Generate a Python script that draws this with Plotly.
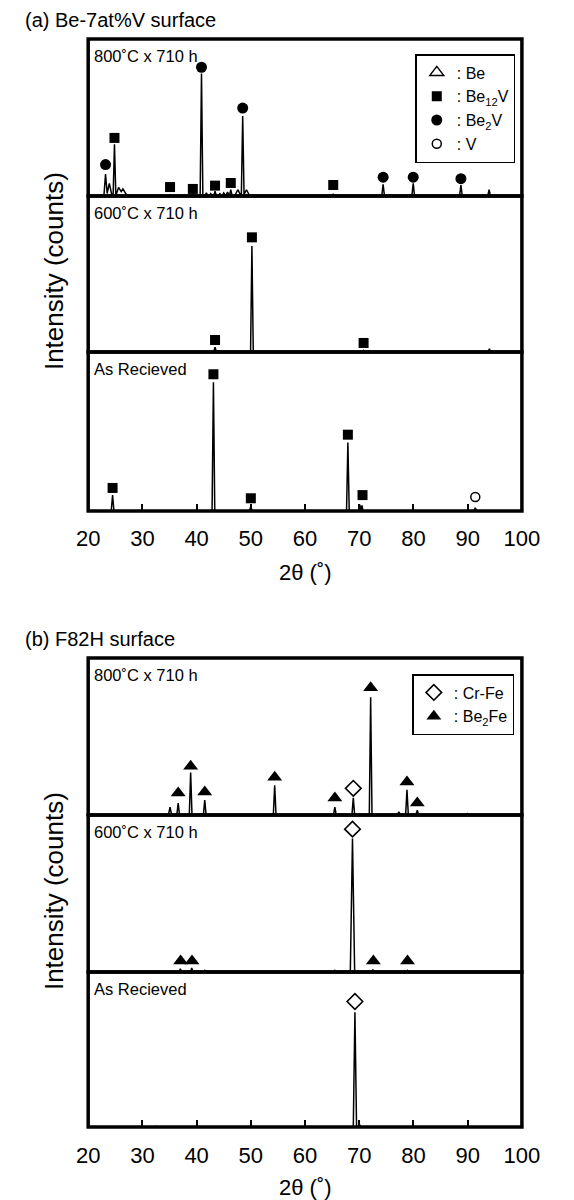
import plotly.graph_objects as go

FONT = "Liberation Sans, Arial, Helvetica, sans-serif"

# ---------------- data ----------------
tick_vals = [20, 30, 40, 50, 60, 70, 80, 90, 100]
tick_text = ["20", "30", "40", "50", "60", "70", "80", "90", "100"]

# (a) Be-7at%V surface : peak positions (2theta), relative heights, half widths
a800_pos = [23.2, 23.9, 24.85, 25.6, 26.4, 35.1, 39.3, 40.9, 41.8, 42.6, 43.4, 44.3, 45.0, 45.7, 46.3, 47.6, 48.5, 49.2, 65.2, 74.4, 79.95, 88.75, 93.95]
a800_hgt = [0.14, 0.08, 0.33, 0.055, 0.045, 0.008, 0.01, 0.78, 0.02, 0.015, 0.03, 0.015, 0.02, 0.025, 0.04, 0.04, 0.51, 0.04, 0.012, 0.075, 0.08, 0.07, 0.04]
a800_wid = [0.3, 0.5, 0.25, 0.5, 0.8, 0.3, 0.3, 0.25, 0.3, 0.3, 0.25, 0.3, 0.3, 0.3, 0.25, 0.6, 0.25, 0.6, 0.4, 0.25, 0.25, 0.25, 0.25]
a800_be12v_x = [24.85, 35.1, 39.3, 43.4, 46.3, 65.2]
a800_be12v_y = [0.37, 0.057, 0.045, 0.066, 0.083, 0.07]
a800_be2v_x = [23.2, 40.9, 48.5, 74.4, 79.95, 88.75]
a800_be2v_y = [0.20, 0.82, 0.56, 0.12, 0.12, 0.11]

a600_pos = [43.4, 50.2, 70.8, 94.0]
a600_hgt = [0.03, 0.68, 0.01, 0.02]
a600_wid = [0.25, 0.25, 0.25, 0.25]
a600_be12v_x = [43.4, 50.2, 70.8]
a600_be12v_y = [0.077, 0.735, 0.058]

aAR_pos = [24.5, 43.1, 50.0, 67.9, 70.1, 70.5, 91.4]
aAR_hgt = [0.10, 0.81, 0.03, 0.43, 0.04, 0.035, 0.02]
aAR_wid = [0.25, 0.25, 0.25, 0.25, 0.2, 0.2, 0.25]
aAR_be12v_x = [24.5, 43.1, 50.0, 67.9, 70.6]
aAR_be12v_y = [0.145, 0.86, 0.08, 0.48, 0.10]
aAR_v_x = [91.4]
aAR_v_y = [0.088]

# (b) F82H surface
b800_pos = [35.1, 36.6, 38.9, 41.5, 54.4, 65.5, 68.9, 72.1, 77.3, 78.8, 80.7, 90.0]
b800_hgt = [0.05, 0.076, 0.27, 0.095, 0.19, 0.05, 0.11, 0.75, 0.02, 0.16, 0.03, 0.01]
b800_wid = [0.3, 0.25, 0.25, 0.25, 0.25, 0.25, 0.25, 0.25, 0.3, 0.25, 0.25, 0.3]
b800_be2fe_x = [36.6, 38.9, 41.5, 54.4, 65.5, 72.1, 78.8, 80.7]
b800_be2fe_y = [0.14, 0.31, 0.146, 0.24, 0.108, 0.81, 0.21, 0.076]
b800_crfe_x = [68.9]
b800_crfe_y = [0.17]

b600_pos = [37.0, 39.1, 41.5, 65.5, 68.75, 72.5, 78.9]
b600_hgt = [0.02, 0.025, 0.01, 0.01, 0.85, 0.015, 0.01]
b600_wid = [0.25, 0.25, 0.25, 0.25, 0.4, 0.25, 0.25]
b600_be2fe_x = [37.05, 39.15, 72.6, 78.9]
b600_be2fe_y = [0.07, 0.07, 0.07, 0.07]
b600_crfe_x = [68.75]
b600_crfe_y = [0.91]

bAR_pos = [32.5, 69.2, 70.0]
bAR_hgt = [0.005, 0.74, 0.02]
bAR_wid = [0.3, 0.3, 0.25]
bAR_crfe_x = [69.2]
bAR_crfe_y = [0.81]


def profile(pos, hgt, wid):
    xs = {20.0, 100.0}
    for p, w in zip(pos, wid):
        xs.update([p - w, p, p + w])
    xs = sorted(xs)
    ys = []
    for x in xs:
        v = 0.0
        for p, h, w in zip(pos, hgt, wid):
            if abs(x - p) < w:
                v = max(v, h * (1 - abs(x - p) / w))
        ys.append(v)
    return xs, ys


fig = go.Figure()

# page body has an 8px margin: lay out in window pixels and convert
OFF = 8
W, H = 574 - OFF, 1200 - OFF


def xp(px):
    return (px - OFF) / W


def yp(py):
    return 1 - (py - OFF) / H


X0, X1 = 80, 538
panels = {
    "y": (39, 196), "y2": (196, 352), "y3": (352, 511),
    "y4": (658, 815), "y5": (815, 972), "y6": (972, 1127),
}

spectra = [
    ("x", "y", a800_pos, a800_hgt, a800_wid),
    ("x", "y2", a600_pos, a600_hgt, a600_wid),
    ("x", "y3", aAR_pos, aAR_hgt, aAR_wid),
    ("x2", "y4", b800_pos, b800_hgt, b800_wid),
    ("x2", "y5", b600_pos, b600_hgt, b600_wid),
    ("x2", "y6", bAR_pos, bAR_hgt, bAR_wid),
]
for xa, ya, p, h, w in spectra:
    xs, ys = profile(p, h, w)
    fig.add_trace(go.Scatter(x=xs, y=ys, xaxis=xa, yaxis=ya, mode="lines",
                             line=dict(color="black", width=1.5), showlegend=False,
                             hoverinfo="skip"))

sym_be = dict(symbol="triangle-up-open", size=12, color="black", line=dict(width=1.5, color="black"))
sym_be12v = dict(symbol="square", size=10, color="black")
sym_be2v = dict(symbol="circle", size=11, color="black")
sym_v = dict(symbol="circle-open", size=9, color="black", line=dict(width=1.5, color="black"))
sym_crfe = dict(symbol="diamond-open", size=12, color="black", line=dict(width=1.6, color="black"))
sym_be2fe = dict(symbol="triangle-up", size=13, color="black")


def mk(x, y, xa, ya, marker, name=None, legend="legend", show=False):
    fig.add_trace(go.Scatter(x=x, y=y, xaxis=xa, yaxis=ya, mode="markers",
                             marker=marker, name=name, showlegend=show,
                             legend=legend, cliponaxis=False))

# panel (a) markers (legend entries first)
mk([None], [None], "x", "y", sym_be, ": Be", "legend", True)
mk(a800_be12v_x, a800_be12v_y, "x", "y", sym_be12v, ": Be<sub>12</sub>V", "legend", True)
mk(a800_be2v_x, a800_be2v_y, "x", "y", sym_be2v, ": Be<sub>2</sub>V", "legend", True)
mk(aAR_v_x, aAR_v_y, "x", "y3", sym_v, ": V", "legend", True)
mk(a600_be12v_x, a600_be12v_y, "x", "y2", sym_be12v)
mk(aAR_be12v_x, aAR_be12v_y, "x", "y3", sym_be12v)

# panel (b) markers
mk(b800_crfe_x, b800_crfe_y, "x2", "y4", sym_crfe, ": Cr-Fe", "legend2", True)
mk(b800_be2fe_x, b800_be2fe_y, "x2", "y4", sym_be2fe, ": Be<sub>2</sub>Fe", "legend2", True)
mk(b600_crfe_x, b600_crfe_y, "x2", "y5", sym_crfe)
mk(b600_be2fe_x, b600_be2fe_y, "x2", "y5", sym_be2fe)
mk(bAR_crfe_x, bAR_crfe_y, "x2", "y6", sym_crfe)

xdom = [xp(X0), xp(X1)]
tickfont = dict(family=FONT, size=22, color="black")
common_x = dict(domain=xdom, range=[20, 100], showgrid=False, zeroline=False, showline=False,
                ticks="inside", ticklen=7, tickwidth=1.5, tickcolor="black")

layout = dict(
    width=W, height=H, margin=dict(l=0, r=0, t=0, b=0),
    paper_bgcolor="white", plot_bgcolor="white",
    font=dict(family=FONT, color="black"),
    xaxis=dict(**common_x, anchor="y3", tickvals=tick_vals, ticktext=tick_text, tickfont=tickfont,
               ticklabelstandoff=12),
    xaxis2=dict(**common_x, anchor="y6", tickvals=tick_vals, ticktext=tick_text, tickfont=tickfont,
                ticklabelstandoff=13),
    xaxis3=dict(**common_x, anchor="y", overlaying="x", side="top", tickvals=tick_vals, showticklabels=False),
    xaxis4=dict(**common_x, anchor="y4", overlaying="x2", side="top", tickvals=tick_vals, showticklabels=False),
    showlegend=True,
    legend=dict(x=xp(531), xanchor="right", y=yp(54), yanchor="top",
                bgcolor="white", bordercolor="black", borderwidth=1.5,
                font=dict(family=FONT, size=16, color="black"), tracegroupgap=0),
    legend2=dict(x=xp(530), xanchor="right", y=yp(674), yanchor="top",
                 bgcolor="white", bordercolor="black", borderwidth=1.5,
                 font=dict(family=FONT, size=16, color="black"), tracegroupgap=0),
)
for ya, (t, b) in panels.items():
    key = "yaxis" if ya == "y" else "yaxis" + ya[1:]
    xa = "x" if ya in ("y", "y2", "y3") else "x2"
    layout[key] = dict(domain=[yp(b), yp(t)], range=[0, 1], anchor=xa, visible=False, fixedrange=True)
fig.update_layout(**layout)

# frames
for ya in panels:
    xa = "x" if ya in ("y", "y2", "y3") else "x2"
    fig.add_shape(type="rect", xref=f"{xa} domain", yref=f"{ya} domain", x0=0, x1=1, y0=0, y1=1,
                  line=dict(color="black", width=3.5), layer="above")

# sub-panel labels
labels = [("x", "y", "800˚C x 710 h"), ("x", "y2", "600˚C x 710 h"), ("x", "y3", "As Recieved"),
          ("x2", "y4", "800˚C x 710 h"), ("x2", "y5", "600˚C x 710 h"), ("x2", "y6", "As Recieved")]
for xa, ya, txt in labels:
    t, b = panels[ya]
    fig.add_annotation(xref=f"{xa} domain", yref=f"{ya} domain", x=4 / (X1 - X0), y=1 - 17 / (b - t),
                       xanchor="left", yanchor="middle", text=txt, showarrow=False,
                       font=dict(family=FONT, size=16.5, color="black"))

# panel titles
for txt, yc in [("(a) Be-7at%V surface", 20), ("(b) F82H surface", 639)]:
    fig.add_annotation(xref="paper", yref="paper", x=xp(11), y=yp(yc), xanchor="left", yanchor="middle",
                       text=txt, showarrow=False, font=dict(family=FONT, size=20, color="black"))

# axis titles
for yc in [271, 891]:
    fig.add_annotation(xref="paper", yref="paper", x=xp(44), y=yp(yc), xanchor="center", yanchor="middle",
                       text="Intensity (counts)", textangle=-90, showarrow=False,
                       font=dict(family=FONT, size=26, color="black"))
for yc in [573, 1187]:
    fig.add_annotation(xref="paper", yref="paper", x=xp((X0 + X1) / 2), y=yp(yc), xanchor="center",
                       yanchor="middle", text="2θ (˚)", showarrow=False,
                       font=dict(family=FONT, size=22, color="black"))

fig.write_html("out.html")
